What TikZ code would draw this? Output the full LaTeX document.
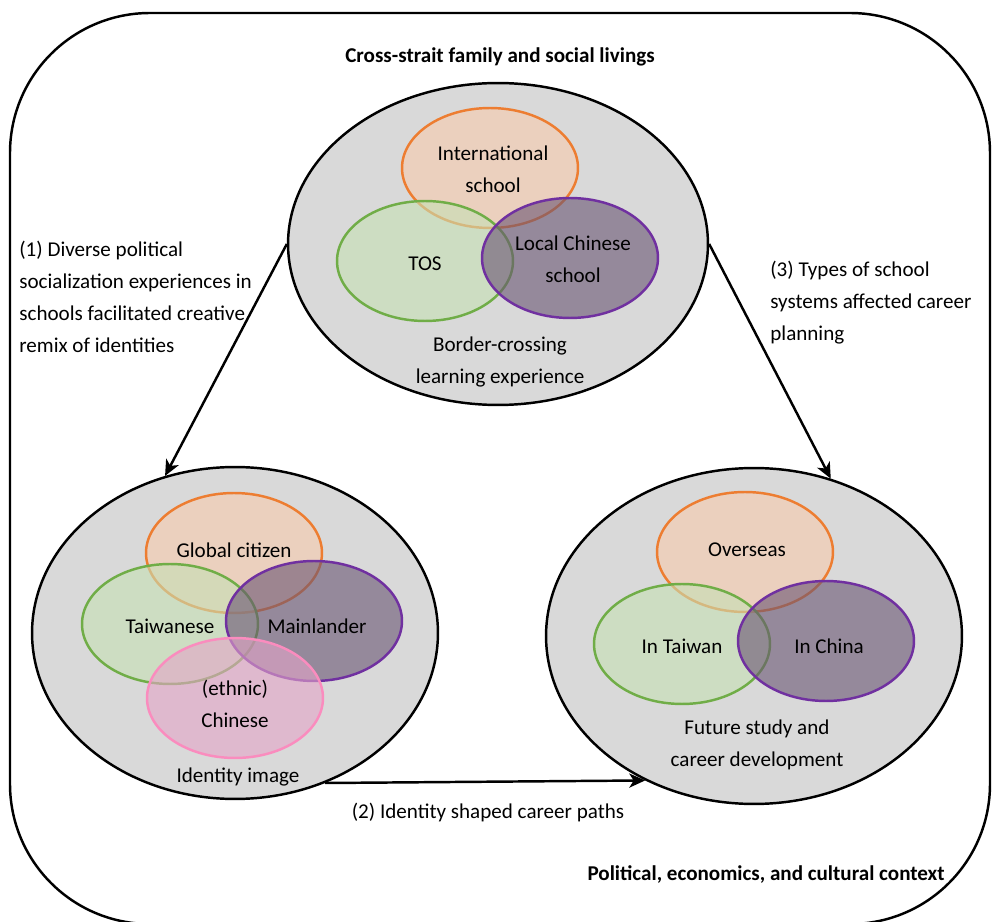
\documentclass[tikz,border=0pt]{standalone}
\usepackage{fontspec}
\setmainfont{Carlito}
\usetikzlibrary{shapes.geometric,arrows.meta}
\definecolor{bggray}{RGB}{217,217,217}
\definecolor{oline}{RGB}{237,125,49}
\definecolor{ofill}{RGB}{248,203,173}
\definecolor{gline}{RGB}{112,173,71}
\definecolor{gfill}{RGB}{197,224,180}
\definecolor{pline}{RGB}{112,48,160}
\definecolor{pfill}{RGB}{105,84,114}
\definecolor{kline}{RGB}{250,140,190}
\definecolor{kfill}{RGB}{228,165,200}
\begin{document}
\begin{tikzpicture}[x=0.02cm, y=-0.02cm, font=\fontsize{12}{18.2}\selectfont,
  >={Stealth[length=9pt,width=8pt,inset=2.5pt]}]
  \tikzstyle{big}=[ellipse, draw, line width=1.4pt, fill=bggray, inner sep=0pt]
  \tikzstyle{small}=[ellipse, line width=1.4pt, minimum width=3.52cm, minimum height=2.4cm, inner sep=0pt]
  \tikzstyle{color1}=[draw=oline, fill=ofill, fill opacity=0.6]
  \tikzstyle{color2}=[draw=gline, fill=gfill, fill opacity=0.6]
  \tikzstyle{color3}=[draw=pline, fill=pfill, fill opacity=0.6]
  \tikzstyle{color4}=[draw=kline, fill=kfill, fill opacity=0.6]
  \tikzstyle{txt}=[align=center, inner sep=0pt]
  \tikzstyle{note}=[align=left, inner sep=0pt, anchor=west]

  \useasboundingbox (0,0) rectangle (992,922);
  \draw[line width=1.4pt, rounded corners=2.8cm] (10,13) rectangle (990,924);

  \node[txt, font=\fontsize{12}{18.2}\selectfont\bfseries] (family) at (500,57) {Cross-strait family and social livings};
  \node[txt, anchor=east, font=\fontsize{12}{18.2}\selectfont\bfseries] (context) at (945,875) {Political, economics, and cultural context};

  \node[big, minimum width=8.4cm, minimum height=6.44cm] (top) at (498,244) {};
  \node[small, color1] (intl)  at (490,168) {};
  \node[small, color2] (tos)   at (425,261) {};
  \node[small, color3] (local) at (570,258) {};
  \node[txt] (intltxt)  at (493,169) {International\\school};
  \node[txt] (tostxt)   at (425,264) {TOS};
  \node[txt] (localtxt) at (573,259) {Local Chinese\\school};
  \node[txt] (toptxt)   at (500,362) {Border-crossing\\learning experience};

  \node[big, minimum width=8.12cm, minimum height=6.64cm] (ident) at (235,633) {};
  \node[small, color1] (global)    at (234,553) {};
  \node[small, color2] (taiwanese) at (170,624) {};
  \node[small, color3] (mainland)  at (314,621) {};
  \node[small, color4] (chinese)   at (235,698) {};
  \node[txt] (globaltxt)    at (234,550) {Global citizen};
  \node[txt] (taiwanesetxt) at (170,626) {Taiwanese};
  \node[txt] (mainlandtxt)  at (317,626) {Mainlander};
  \node[txt] (chinesetxt)   at (235,704) {(ethnic)\\Chinese};
  \node[txt] (identtxt)     at (238,777) {Identity image};

  \node[big, minimum width=8.32cm, minimum height=6.72cm] (career) at (754,636) {};
  \node[small, color1] (overseas)  at (745,552) {};
  \node[small, color2] (intaiwan)  at (682,644) {};
  \node[small, color3] (inchina)   at (826,641) {};
  \node[txt] (overseastxt) at (747,550) {Overseas};
  \node[txt] (intaiwantxt) at (682,646) {In Taiwan};
  \node[txt] (inchinatxt)  at (829,646) {In China};
  \node[txt] (careertxt)   at (757,745) {Future study and\\career development};

  \node[note] (note1) at (19,297) {(1) Diverse political\\socialization experiences in\\schools facilitated creative\\remix of identities};
  \node[note] (note3) at (770,303) {(3) Types of school\\systems affected career\\planning};
  \node[txt] (note2) at (488,812) {(2) Identity shaped career paths};

  \draw[->, line width=1.4pt] (top.west) -- (ident.114);
  \draw[->, line width=1.4pt] (top.east) -- (career.64);
  \draw[->, line width=1.4pt] (ident.-59) -- (career.-127);
\end{tikzpicture}
\end{document}
